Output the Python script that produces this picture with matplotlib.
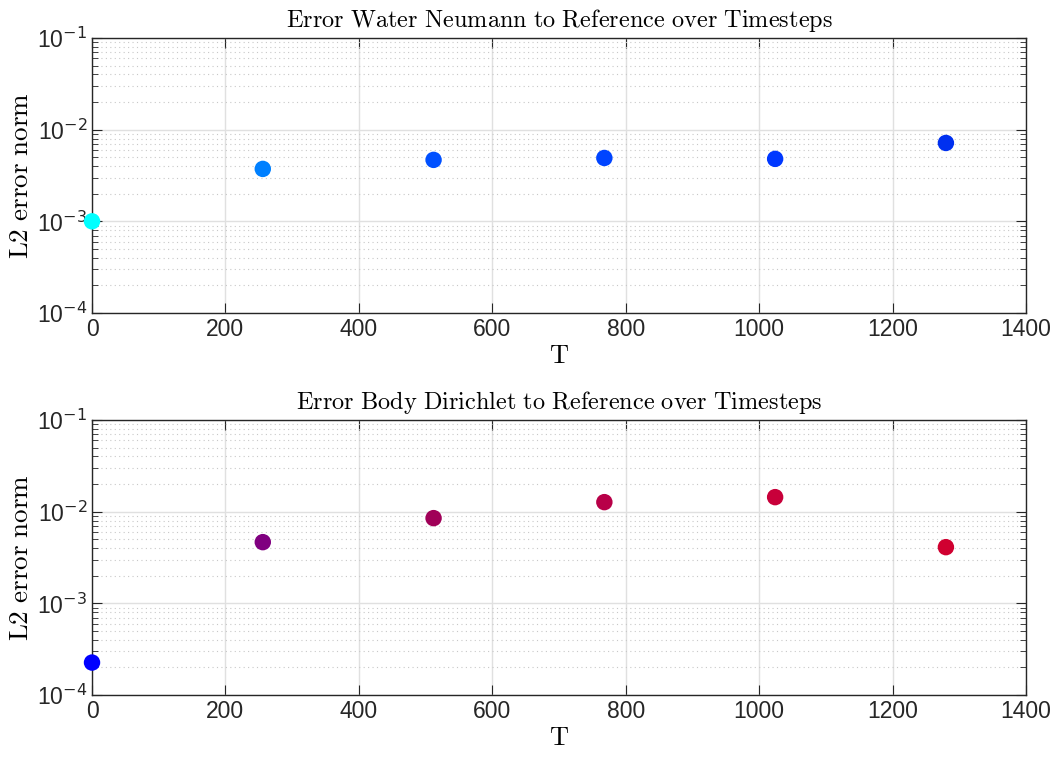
import numpy as np
import matplotlib.pyplot as plt
from matplotlib.ticker import LogLocator, FixedLocator

timesteps = [0, 256, 512, 768, 1024, 1280]
err_water = [1.0e-3, 3.73e-3, 4.68e-3, 4.91e-3, 4.80e-3, 7.16e-3]
err_body = [2.26e-4, 4.65e-3, 8.5e-3, 1.27e-2, 1.44e-2, 4.1e-3]
col_water = ["#00FFFF", "#0080FF", "#0050FF", "#0044FF", "#0038FF", "#0030F0"]
col_body = ["#0000FF", "#800080", "#A00058", "#B80048", "#C8003A", "#D00030"]
titles = ["Error Water Neumann to Reference over Timesteps",
          "Error Body Dirichlet to Reference over Timesteps"]
xticks = [0, 200, 400, 600, 800, 1000, 1200, 1400]
ydecades = [1e-4, 1e-3, 1e-2, 1e-1]
ylabels = ["10$^{-4}$", "10$^{-3}$", "10$^{-2}$", "10$^{-1}$"]

plt.rcParams['font.family'] = ['Liberation Sans', 'DejaVu Sans']

fig = plt.figure(figsize=(10.54, 7.6), dpi=100)
ax1 = fig.add_axes([0.0873, 0.5882, 0.8861, 0.3618])
ax2 = fig.add_axes([0.0873, 0.0855, 0.8861, 0.3619])

edge = "#262626"
for ax, err, cols, title in [(ax1, err_water, col_water, titles[0]),
                             (ax2, err_body, col_body, titles[1])]:
    ax.set_yscale("log")
    ax.scatter(timesteps, err, s=140, c=cols, zorder=3, clip_on=False,
               edgecolors="none")
    ax.set_xlim(0, 1400)
    ax.set_ylim(1e-4, 1e-1)
    ax.xaxis.set_major_locator(FixedLocator(xticks))
    ax.set_xticklabels([str(t) for t in xticks])
    ax.yaxis.set_major_locator(FixedLocator(ydecades))
    ax.set_yticklabels(ylabels)
    ax.yaxis.set_minor_locator(LogLocator(base=10, subs=np.arange(2, 10)))
    ax.yaxis.set_minor_formatter(plt.NullFormatter())
    ax.grid(True, which="major", color="#e0e0e0", lw=1.0, zorder=0)
    ax.grid(True, which="minor", axis="y", color="#c8c8c8", lw=0.8,
            ls=(0, (1, 3)), zorder=0)
    ax.tick_params(which="both", direction="in", top=True, right=True,
                   colors=edge, labelcolor=edge, labelsize=16.5)
    ax.tick_params(which="major", length=7)
    ax.tick_params(which="minor", length=4)
    for sp in ax.spines.values():
        sp.set_color(edge)
        sp.set_linewidth(1.0)
    ax.set_title(r"$\mathrm{" + title.replace(" ", r"\ ") + "}$",
                 fontsize=17.5, math_fontfamily="cm", color="black", pad=8)
    ax.set_xlabel(r"$\mathrm{T}$", fontsize=19, math_fontfamily="cm",
                  labelpad=2)
    ax.set_ylabel(r"$\mathrm{L2\ error\ norm}$", fontsize=19.5,
                  math_fontfamily="cm", labelpad=2)

fig.savefig("out.png", dpi=100)
